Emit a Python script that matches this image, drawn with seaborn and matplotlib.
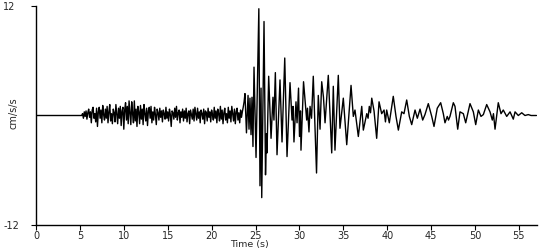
import numpy as np
import pandas as pd
import matplotlib
matplotlib.use("Agg")
import matplotlib.pyplot as plt
import seaborn as sns

# ---------------- data (cm/s/s) ----------------
pre_time = [0.0]
pre_accel = [0.0]

early_start = 5.0
early_dt = 0.1
early_accel = [
    0.0, 0.0, 0.0, 0.2, -0.3, 0.4, -0.1, 0.5, -0.4, 0.3,
    0.7, -0.2, 0.4, -0.8, 0.6, 0.9, -0.3, 0.2, -0.7, 0.8,
    -1.2, 0.4, 0.9, -0.3, 0.6, -0.8, 1.1, 0.1, -0.5, 0.7,
    -0.3, 1.0, -0.8, 0.4, 1.2, -0.6, 0.2, -0.9, 0.7, 0.3,
    -0.7, 1.2, 0.1, -0.9, 0.8, -0.3, 1.0, -1.1, 0.5, 0.9,
    -1.5, 0.6, 1.4, -0.5, 1.0, -0.9, 1.6, 0.3, -1.0, 1.5,
    0.2, -0.8, 1.6, -0.6, 0.7, -1.2, 1.0, 0.4, -0.9, 1.1,
    -0.4, 0.7, -1.0, 1.2, 0.2, -0.6, 0.8, -1.1, 0.5, 0.9,
    -0.3, 1.0, -0.8, 0.4, -0.5, 0.9, 0.1, -1.0, 0.7, 0.3,
    -0.5, 0.8, -0.2, 0.5, -0.7, 0.6, 0.2, -0.4, 0.9, -0.3,
    0.4, -0.6, 0.7, 0.1, -1.2, 0.5, 0.3, -0.4, 0.8, -0.2,
    1.0, -0.5, 0.3, 0.6, -0.8, 0.4, -0.2, 0.7, -0.6, 0.5,
    -0.3, 0.8, -0.7, 0.2, 0.5, -0.9, 0.6, 0.1, -0.4, 0.7,
    -0.6, 0.9, 0.2, -0.5, 0.8, -0.3, 0.4, -0.8, 0.6, 0.2,
    -0.4, 0.7, -0.9, 0.5, 0.3, -0.6, 0.8, -0.2, 0.4, -0.7,
    0.6, 0.1, -0.5, 0.9, -0.3, 0.5, -0.8, 0.7, 0.2, -0.6,
    1.0, -0.4, 0.6, -0.9, 0.3, 0.8, -0.5, 0.2, -0.8, 0.9,
    -0.3, 0.5, -0.7, 1.0, 0.2, -0.6, 0.7, -0.9, 0.4, 0.8,
    -0.5, 0.3, -0.8, 0.6, -0.2, 0.4, 0.9, 1.5,
]

strong_time = [
    23.80, 23.97, 24.15, 24.26, 24.37, 24.49, 24.60, 24.71, 24.83, 25.06,
    25.38, 25.51, 25.63, 25.71, 25.97, 26.14, 26.25, 26.31, 26.50, 26.77,
    26.99, 27.10, 27.26, 27.45, 27.79, 28.02, 28.33, 28.59, 28.93, 29.16,
    29.27, 29.38, 29.61, 29.73, 29.90, 30.01, 30.12, 30.18, 30.47, 30.83,
    30.92, 31.09, 31.21, 31.38, 31.58, 31.95, 32.15, 32.35, 32.54, 32.74,
    32.92, 33.29, 33.68, 33.86, 34.05, 34.43, 34.62, 35.00, 35.39, 35.88,
    36.14, 36.33, 36.71, 37.10, 37.28, 37.67, 37.82, 37.96, 38.10, 38.24,
    38.50, 38.80, 39.07, 39.37, 39.64, 39.80, 39.94, 40.24, 40.69, 41.00,
    41.27, 41.65, 41.91, 42.22, 42.52, 42.79, 43.17, 43.43, 43.74, 44.04,
    44.30, 44.68, 45.07, 45.33, 45.70, 46.09, 46.39, 46.58, 46.84, 46.98,
    47.15, 47.53, 47.72, 48.03, 48.29, 48.67, 48.94, 49.43, 49.81, 50.08,
    50.38, 50.68, 50.95, 51.33, 51.71, 51.97, 52.10, 52.28, 52.65, 52.96,
    53.22, 53.61, 53.99, 54.36, 54.56, 54.93, 55.32, 55.69, 56.07, 56.38,
    56.83, 57.00,
]
strong_accel = [
    2.4, -1.9, 2.2, -1.5, 1.9, -2.1, 2.0, -3.4, 5.3, -4.6,
    11.7, -7.7, 3.0, -9.0, 10.3, -6.5, -2.0, -4.1, 4.3, -2.5,
    2.0, -0.5, 4.7, -4.3, 3.9, -2.9, 6.3, -4.5, 3.6, -0.5,
    1.0, -2.9, 1.5, -0.8, 3.0, -2.3, 0.5, -3.8, 3.7, -0.5,
    0.8, -1.8, 1.0, -0.3, 4.3, -6.3, 2.2, -1.5, 3.7, 2.0,
    -0.8, 4.4, -4.1, 3.2, -3.8, 4.4, -1.4, 1.9, -3.2, 3.3,
    -0.1, 0.6, -2.3, 1.0, -1.6, 0.2, -0.3, 1.0, 0.3, 1.9,
    0.5, -2.5, 1.5, 0.2, 0.6, -0.7, 0.6, -0.8, 2.1, -0.1,
    -1.6, 0.4, 0.2, 1.7, -0.1, -1.0, 0.6, -0.3, 0.7, -0.5,
    0.1, 1.3, -0.1, -1.2, 0.8, 1.4, 0.2, -0.8, -0.1, -0.5,
    -0.1, 1.4, 1.0, -1.5, 0.4, 0.2, -0.8, 1.3, 0.4, -1.0,
    0.6, -0.1, 0.1, 1.2, 0.4, -0.5, 0.2, -1.5, 1.4, 0.2,
    0.6, -0.1, 0.4, -0.4, 0.4, 0.0, 0.3, 0.0, 0.1, 0.0,
    0.0, 0.0,
]

x_ticks = [0, 5, 10, 15, 20, 25, 30, 35, 40, 45, 50, 55]
y_ticks = [-12, 12]
y_tick_labels = ["-12", "12"]
x_label = "Time (s)"
y_label = "cm/s/s"

# ---------------- build frame ----------------
early_time = early_start + early_dt * np.arange(len(early_accel))
time = np.concatenate([pre_time, early_time, strong_time])
accel = np.concatenate([pre_accel, early_accel, strong_accel])
df = pd.DataFrame({"time": time, "accel": accel})

sns.set_style("white")
plt.rcParams["font.family"] = ["DejaVu Sans"]
plt.rcParams["axes.unicode_minus"] = False

fig = plt.figure(figsize=(5.5, 2.5), dpi=100)
ax = fig.add_axes([36 / 550, 1 - 225 / 250, (537 - 36) / 550, (225 - 6) / 250])

sns.lineplot(data=df, x="time", y="accel", ax=ax, color="black",
             linewidth=1.0, sort=False, estimator=None)

ax.set_xlim(0, 57.06)
ax.set_ylim(-12, 12)
ax.set_xticks(x_ticks)
ax.set_xticklabels([str(v) for v in x_ticks], fontsize=7)
ax.set_yticks(y_ticks)
ax.set_yticklabels(y_tick_labels, fontsize=7, ha="left")
ax.tick_params(axis="x", direction="out", length=3.5, width=0.8,
               color="black", pad=0.5, bottom=True)
ax.tick_params(axis="y", direction="out", length=3.5, width=0.8,
               color="black", pad=20, left=True)

ax.set_xlabel(x_label, fontsize=6.8)
ax.xaxis.set_label_coords((249 - 36) / 501, -(240.5 - 225) / 219)
ax.set_ylabel(y_label, fontsize=7, va="center")
ax.yaxis.set_label_coords((14 - 36) / 501, (225 - 113) / 219)

for side in ["top", "right"]:
    ax.spines[side].set_visible(False)
for side in ["left", "bottom"]:
    ax.spines[side].set_color("black")
    ax.spines[side].set_linewidth(1.0)

fig.savefig("out.png", dpi=100, facecolor="white")
